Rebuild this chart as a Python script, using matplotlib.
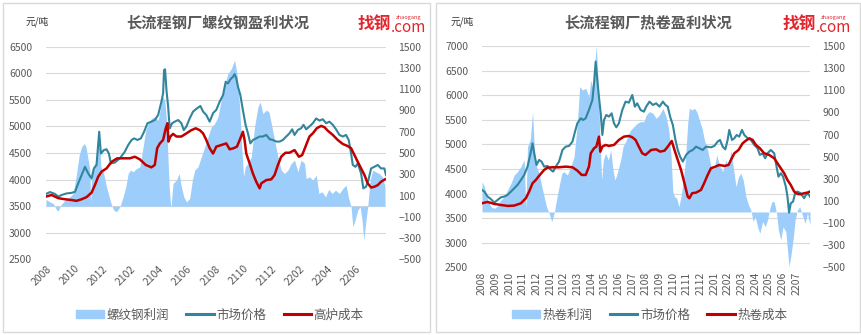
import numpy as np
import matplotlib
matplotlib.use('Agg')
import matplotlib.pyplot as plt
from matplotlib.patches import Patch, Rectangle
from matplotlib.lines import Line2D

plt.rcParams['font.family'] = ['Noto Sans CJK SC', 'DejaVu Sans']

FILL = '#9dcdfa'
TEAL = '#31859c'
RED = '#c00000'
GREY = '#595959'
GRID = '#d9d9d9'
LOGO = '#e3262d'

# all series: (months since 2020-08-01, yuan/ton)

# ---- rebar ----
rb_price = [(0.00, 3730), (0.28, 3765), (0.64, 3730), (0.87, 3680), (1.11, 3710), (1.47, 3740), (1.82, 3750),
            (2.06, 3770), (2.29, 3930), (2.53, 4085), (2.77, 4240), (3.00, 4115), (3.24, 4020), (3.40, 4210),
            (3.59, 4275), (3.78, 4900), (3.90, 4490), (4.11, 4555), (4.30, 4570), (4.47, 4490), (4.61, 4305),
            (4.89, 4320), (5.25, 4400), (5.60, 4525), (5.84, 4650), (6.08, 4745), (6.26, 4775), (6.50, 4745),
            (6.74, 4775), (6.97, 4900), (7.21, 5060), (7.49, 5090), (7.73, 5120), (7.97, 5215), (8.20, 5465),
            (8.32, 5620), (8.39, 6060), (8.46, 6075), (8.56, 5685), (8.68, 5370), (8.79, 4960), (8.96, 5060),
            (9.15, 5090), (9.39, 5120), (9.62, 5060), (9.79, 4930), (9.98, 5000), (10.21, 5150), (10.45, 5280),
            (10.73, 5340), (10.97, 5385), (11.16, 5280), (11.39, 5215), (11.63, 5090), (11.87, 5250),
            (12.10, 5310), (12.34, 5465), (12.58, 5590), (12.77, 5840), (12.93, 5810), (13.10, 5885),
            (13.29, 5935), (13.40, 5985), (13.52, 5905), (13.64, 5750), (13.81, 5590), (13.99, 5310),
            (14.18, 5030), (14.35, 4870), (14.52, 4680), (14.70, 4745), (14.94, 4775), (15.18, 4810),
            (15.41, 4810), (15.65, 4840), (15.89, 4760), (16.12, 4745), (16.36, 4715), (16.60, 4715),
            (16.83, 4745), (17.07, 4810), (17.30, 4870), (17.49, 4945), (17.66, 4840), (17.90, 4935),
            (18.13, 4965), (18.30, 5030), (18.49, 4945), (18.72, 5000), (18.96, 5060), (19.20, 5150),
            (19.43, 5110), (19.67, 5135), (19.91, 5060), (20.14, 5090), (20.38, 5030), (20.61, 4945),
            (20.85, 4840), (21.09, 4810), (21.32, 4840), (21.51, 4745), (21.68, 4490), (21.80, 4275),
            (21.99, 4240), (22.15, 4305), (22.39, 4115), (22.55, 3835), (22.74, 3865), (22.91, 3990),
            (23.10, 4210), (23.33, 4240), (23.57, 4275), (23.81, 4210), (24.04, 4210), (24.16, 4085)]

rb_cost = [(0.00, 3680), (0.40, 3710), (0.87, 3650), (1.35, 3630), (1.82, 3615), (2.17, 3600), (2.53, 3630),
           (2.88, 3670), (3.24, 3755), (3.48, 3900), (3.71, 4055), (3.95, 4150), (4.30, 4210), (4.66, 4335),
           (5.06, 4400), (5.48, 4400), (5.96, 4400), (6.31, 4430), (6.67, 4380), (7.09, 4275), (7.49, 4230),
           (7.73, 4275), (7.90, 4590), (8.09, 4680), (8.32, 4745), (8.51, 4965), (8.63, 5060), (8.70, 4715),
           (8.84, 4810), (9.03, 4860), (9.27, 4810), (9.62, 4810), (9.98, 4870), (10.33, 4930), (10.64, 4965),
           (10.92, 4930), (11.16, 4870), (11.39, 4745), (11.63, 4590), (11.87, 4490), (12.10, 4620),
           (12.46, 4650), (12.81, 4680), (13.05, 4570), (13.33, 4590), (13.57, 4620), (13.81, 4775),
           (13.99, 4900), (14.11, 4745), (14.23, 4490), (14.47, 4305), (14.70, 4115), (14.94, 3960),
           (15.18, 3835), (15.30, 3930), (15.65, 3990), (16.01, 4005), (16.24, 4085), (16.48, 4275),
           (16.71, 4430), (17.02, 4505), (17.30, 4505), (17.66, 4555), (17.97, 4430), (18.20, 4460),
           (18.44, 4620), (18.72, 4810), (18.96, 4870), (19.24, 4965), (19.55, 5010), (19.79, 4985),
           (20.02, 4920), (20.38, 4840), (20.73, 4745), (21.09, 4670), (21.44, 4630), (21.68, 4590),
           (21.92, 4460), (22.15, 4335), (22.39, 4210), (22.63, 4085), (22.86, 3930), (23.10, 3850),
           (23.33, 3865), (23.57, 3895), (23.81, 3960), (24.09, 4005)]

rb_profit = [(0.00, 63), (0.28, 40), (0.52, 25), (0.76, -38), (0.87, -44), (1.04, 9), (1.35, 56), (1.70, 88),
             (1.94, 119), (2.17, 307), (2.36, 480), (2.53, 558), (2.72, 590), (2.84, 558), (2.96, 464),
             (3.12, 339), (3.17, 20), (3.24, 245), (3.36, 370), (3.59, 433), (3.78, 715), (3.90, 370),
             (4.07, 323), (4.30, 182), (4.49, 88), (4.66, 9), (4.82, -38), (5.01, -53), (5.25, -6), (5.48, 88),
             (5.67, 182), (5.84, 307), (6.00, 339), (6.19, 323), (6.43, 354), (6.67, 370), (6.90, 558),
             (7.09, 715), (7.26, 777), (7.49, 824), (7.73, 840), (7.97, 809), (8.13, 918), (8.27, 1028),
             (8.44, 1000), (8.56, 809), (8.75, 182), (8.87, -22), (9.03, 213), (9.27, 245), (9.46, 307),
             (9.62, 182), (9.79, 88), (9.98, 40), (10.21, 72), (10.40, 245), (10.57, 339), (10.80, 370),
             (11.04, 464), (11.28, 558), (11.51, 652), (11.75, 746), (11.99, 777), (12.22, 840),
             (12.58, 1090), (12.93, 1247), (13.17, 1294), (13.40, 1372), (13.57, 1247), (13.76, 934),
             (13.92, 527), (14.04, 276), (14.16, 370), (14.35, 401), (14.59, 464), (14.82, 746), (15.06, 934),
             (15.22, 981), (15.41, 872), (15.65, 903), (15.84, 887), (16.01, 777), (16.24, 621), (16.48, 464),
             (16.71, 339), (16.95, 307), (17.19, 339), (17.42, 401), (17.66, 433), (17.90, 323), (18.13, 433),
             (18.37, 401), (18.49, 260), (18.72, 276), (18.96, 245), (19.20, 292), (19.39, 119), (19.62, 135),
             (19.86, 88), (20.09, 157), (20.33, 119), (20.57, 150), (20.85, 119), (21.09, 166), (21.32, 198),
             (21.51, 72), (21.68, -6), (21.80, -194), (21.96, -132), (22.15, -38), (22.32, -6), (22.46, -132),
             (22.58, -320), (22.74, -132), (22.86, -6), (23.03, 245), (23.22, 339), (23.43, 323), (23.67, 307),
             (23.91, 276), (24.09, 182)]

rb_labels = ['2008', '2010', '2012', '2102', '2104', '2106', '2108', '2110', '2112', '2202', '2204', '2206']

# ---- hot rolled coil ----
hc_price = [(0.00, 4073), (0.17, 4040), (0.41, 3938), (0.66, 3884), (0.90, 3816), (1.14, 3870), (1.39, 3924),
            (1.63, 3938), (1.87, 3972), (2.12, 4040), (2.36, 4107), (2.60, 4175), (2.85, 4276), (3.09, 4378),
            (3.33, 4547), (3.53, 4785), (3.70, 5022), (3.82, 4818), (3.99, 4581), (4.18, 4683), (4.36, 4649),
            (4.55, 4547), (4.79, 4561), (5.04, 4480), (5.21, 4446), (5.40, 4547), (5.64, 4649), (5.89, 4886),
            (6.13, 4954), (6.37, 4968), (6.62, 5056), (6.81, 5259), (6.98, 5428), (7.23, 5530), (7.40, 5496),
            (7.59, 5530), (7.83, 5699), (8.08, 5902), (8.20, 6241), (8.32, 6682), (8.44, 6309), (8.56, 5970),
            (8.69, 5631), (8.81, 5191), (8.93, 5496), (9.10, 5598), (9.29, 5564), (9.49, 5631), (9.66, 5428),
            (9.83, 5347), (10.02, 5428), (10.27, 5699), (10.51, 5869), (10.75, 5848), (11.00, 6004),
            (11.19, 5767), (11.36, 5835), (11.61, 5699), (11.85, 5665), (12.02, 5767), (12.26, 5869),
            (12.51, 5801), (12.75, 5835), (12.99, 5767), (13.24, 5869), (13.43, 5801), (13.60, 5767),
            (13.77, 5564), (13.97, 5394), (14.16, 5090), (14.33, 4886), (14.50, 4751), (14.70, 4649),
            (14.94, 4785), (15.18, 4852), (15.43, 4886), (15.67, 4954), (15.91, 4920), (16.16, 4886),
            (16.40, 4954), (16.76, 4940), (17.01, 4968), (17.25, 5056), (17.42, 5090), (17.62, 4954),
            (17.81, 4899), (17.98, 5090), (18.10, 5293), (18.30, 5090), (18.47, 5123), (18.64, 5191),
            (18.83, 5157), (19.03, 5293), (19.20, 5191), (19.45, 5123), (19.68, 5090), (19.93, 4988),
            (20.17, 4920), (20.34, 4785), (20.54, 4818), (20.73, 4717), (20.90, 4818), (21.14, 4886),
            (21.39, 4818), (21.56, 4547), (21.70, 4344), (21.87, 4412), (22.04, 4344), (22.24, 4141),
            (22.36, 3938), (22.48, 3613), (22.60, 3802), (22.77, 3836), (22.92, 4006), (23.09, 4040),
            (23.33, 4006), (23.58, 3904), (23.70, 3972), (23.89, 3992), (24.01, 3938)]

hc_cost = [(0.00, 3802), (0.41, 3829), (0.90, 3789), (1.39, 3768), (1.87, 3748), (2.36, 3755), (2.85, 3802),
           (3.21, 3904), (3.45, 4040), (3.70, 4209), (3.94, 4276), (4.23, 4378), (4.55, 4480), (4.79, 4527),
           (5.16, 4534), (5.64, 4534), (6.13, 4547), (6.62, 4534), (6.98, 4466), (7.30, 4378), (7.59, 4378),
           (7.83, 4547), (7.96, 4818), (8.20, 4920), (8.37, 4954), (8.56, 5157), (8.66, 4852), (8.81, 4954),
           (9.05, 4988), (9.29, 4968), (9.66, 4988), (10.02, 5090), (10.39, 5157), (10.75, 5171),
           (11.00, 5144), (11.24, 5090), (11.48, 4954), (11.73, 4818), (11.97, 4785), (12.38, 4886),
           (12.75, 4899), (13.04, 4852), (13.36, 4872), (13.60, 4954), (13.89, 5069), (14.09, 4886),
           (14.33, 4683), (14.57, 4480), (14.82, 4209), (15.06, 3938), (15.18, 3904), (15.38, 4006),
           (15.67, 4019), (16.03, 4073), (16.28, 4222), (16.52, 4378), (16.76, 4514), (17.08, 4547),
           (17.37, 4581), (17.74, 4561), (18.05, 4581), (18.22, 4683), (18.47, 4818), (18.78, 4886),
           (19.08, 5022), (19.32, 5076), (19.57, 5123), (19.81, 5090), (20.05, 4988), (20.34, 4920),
           (20.66, 4818), (21.02, 4785), (21.39, 4717), (21.63, 4615), (21.87, 4514), (22.12, 4412),
           (22.36, 4276), (22.60, 4175), (22.85, 4040), (23.09, 3992), (23.33, 3985), (23.58, 4006),
           (23.82, 4019), (24.01, 4040)]

hc_profit = [(0.00, 274), (0.17, 229), (0.41, 108), (0.66, 48), (0.90, 33), (1.14, 54), (1.39, 108), (1.63, 139),
             (1.87, 199), (2.12, 259), (2.36, 334), (2.60, 364), (2.85, 410), (3.09, 470), (3.21, 18),
             (3.33, 590), (3.53, 651), (3.70, 907), (3.84, 560), (3.99, 410), (4.18, 349), (4.38, 229),
             (4.55, 139), (4.72, 48), (4.91, -12), (5.11, -87), (5.28, -12), (5.45, 108), (5.64, 229),
             (5.84, 349), (6.01, 364), (6.25, 334), (6.50, 410), (6.74, 500), (6.98, 801), (7.15, 1133),
             (7.35, 1102), (7.59, 1117), (7.83, 1042), (7.96, 1193), (8.13, 1102), (8.27, 1373), (8.37, 1500),
             (8.49, 1193), (8.64, 651), (8.76, 289), (8.88, 470), (9.05, 530), (9.25, 470), (9.42, 560),
             (9.59, 380), (9.73, 289), (9.90, 349), (10.15, 470), (10.32, 590), (10.51, 636), (10.71, 696),
             (10.88, 741), (11.12, 771), (11.36, 801), (11.61, 816), (11.85, 816), (12.02, 876), (12.26, 907),
             (12.51, 892), (12.75, 846), (12.99, 876), (13.24, 937), (13.48, 861), (13.67, 741), (13.84, 500),
             (13.97, 184), (14.09, 139), (14.26, 123), (14.41, 48), (14.57, 139), (14.70, 259), (14.87, 440),
             (15.06, 801), (15.18, 937), (15.38, 922), (15.55, 937), (15.72, 907), (15.91, 831), (16.11, 756),
             (16.28, 651), (16.52, 560), (16.76, 410), (17.01, 395), (17.18, 515), (17.37, 425), (17.62, 364),
             (17.86, 470), (18.05, 410), (18.22, 560), (18.39, 410), (18.59, 229), (18.78, 319), (18.95, 349),
             (19.12, 289), (19.32, 139), (19.51, 63), (19.68, 18), (19.85, -87), (20.00, -42), (20.17, -133),
             (20.34, -193), (20.54, -87), (20.73, -133), (20.90, -72), (21.07, 33), (21.22, 93), (21.39, 93),
             (21.56, -12), (21.70, -163), (21.87, -253), (22.04, -133), (22.24, -178), (22.36, -343),
             (22.48, -494), (22.60, -404), (22.77, -253), (22.92, -72), (23.09, 18), (23.26, 48), (23.45, -27),
             (23.65, -102), (23.82, -12), (24.01, -117)]

hc_labels = ['2008', '2009', '2010', '2011', '2012', '2101', '2102', '2103', '2104', '2105', '2106', '2107',
             '2108', '2109', '2110', '2111', '2112', '2201', '2202', '2203', '2204', '2205', '2206', '2207']


def month_offset(label):
    # 'YYMM' -> months after 2020-08
    return (int(label[:2]) - 20) * 12 + int(label[2:]) - 8


def draw_panel(fig, rect, price, cost, profit, price_lim, labels, rot):
    ax = fig.add_axes(rect)
    ax_p = ax.twinx()
    ax_l = ax.twinx()

    px, py = np.array(price).T
    cx, cy = np.array(cost).T
    fx, fy = np.array(profit).T

    ax_p.fill_between(fx, 0, fy, color=FILL, lw=0)
    ax_l.plot(px, py, color=TEAL, lw=1.5)
    ax_l.plot(cx, cy, color=RED, lw=1.8)

    ax.set_xlim(0, px.max())
    ax.set_ylim(*price_lim)
    ax.set_yticks(np.arange(price_lim[0], price_lim[1] + 1, 500))
    ax_l.set_ylim(*price_lim)
    ax_l.axis('off')
    ax_p.set_ylim(-500, 1500)
    ax_p.set_yticks(np.arange(-500, 1501, 200))

    ax.yaxis.grid(True, color=GRID, lw=0.8)
    ax.set_axisbelow(True)
    ax.set_xticks([month_offset(s) for s in labels])
    if rot == 45:
        ax.set_xticklabels(labels, rotation=45, ha='right', va='top', rotation_mode='anchor')
    else:
        ax.set_xticklabels(labels, rotation=90, ha='center', va='top')

    for a in (ax, ax_p):
        for sp in a.spines.values():
            sp.set_visible(False)
        a.tick_params(length=0, labelsize=7.5, labelcolor=GREY)
    ax.tick_params(axis='y', pad=10)
    ax_p.tick_params(axis='y', pad=9)
    ax.tick_params(axis='x', pad=3)

    handles = [Patch(color=FILL), Line2D([], [], color=TEAL, lw=2.2), Line2D([], [], color=RED, lw=2.2)]
    return ax, handles


fig = plt.figure(figsize=(8.62, 3.35), dpi=100)
W, H = 862.0, 335.0

# panel frames
fig.patches.append(Rectangle((3 / W, 3 / H), 427 / W, 329 / H, transform=fig.transFigure,
                             fill=False, ec=GRID, lw=1))
fig.patches.append(Rectangle((436 / W, 3 / H), 424 / W, 329 / H, transform=fig.transFigure,
                             fill=False, ec=GRID, lw=1))

rb_names = ['螺纹钢利润', '市场价格', '高炉成本']
hc_names = ['热卷利润', '市场价格', '热卷成本']

ax1, h1 = draw_panel(fig, [46 / W, 1 - 259.3 / H, 340 / W, 212.6 / H], rb_price, rb_cost, rb_profit,
                     (2500, 6500), rb_labels, 45)
ax2, h2 = draw_panel(fig, [482 / W, 1 - 267.3 / H, 328 / W, 221.3 / H], hc_price, hc_cost, hc_profit,
                     (2500, 7000), hc_labels, 90)

for cx, title, unit_x, logo_x, handles, names in [(218, '长流程钢厂螺纹钢盈利状况', 26, 358, h1, rb_names),
                                                  (648, '长流程钢厂热卷盈利状况', 451, 783, h2, hc_names)]:
    fig.text(cx / W, 1 - 22 / H, title, ha='center', va='center', fontsize=11, fontweight='bold', color=GREY)
    fig.text(unit_x / W, 1 - 22 / H, '元/吨', ha='left', va='center', fontsize=7, color='#333333')
    fig.text(logo_x / W, 1 - 24 / H, '找钢', ha='left', va='center', fontsize=12, fontweight='bold',
             color=LOGO)
    fig.text((logo_x + 33) / W, 1 - 27 / H, '.com', ha='left', va='center', fontsize=11, color=LOGO)
    fig.text((logo_x + 51) / W, 1 - 17 / H, 'zhaogang', ha='center', va='center', fontsize=4, color=LOGO)
    fig.legend(handles, names, loc='center', bbox_to_anchor=((cx + 2) / W, 1 - 315 / H), ncol=3,
               frameon=False, fontsize=9, labelcolor=GREY, handlelength=2.2, handletextpad=0.2,
               columnspacing=1.4, handleheight=0.6)

fig.savefig('out.png', dpi=100)
